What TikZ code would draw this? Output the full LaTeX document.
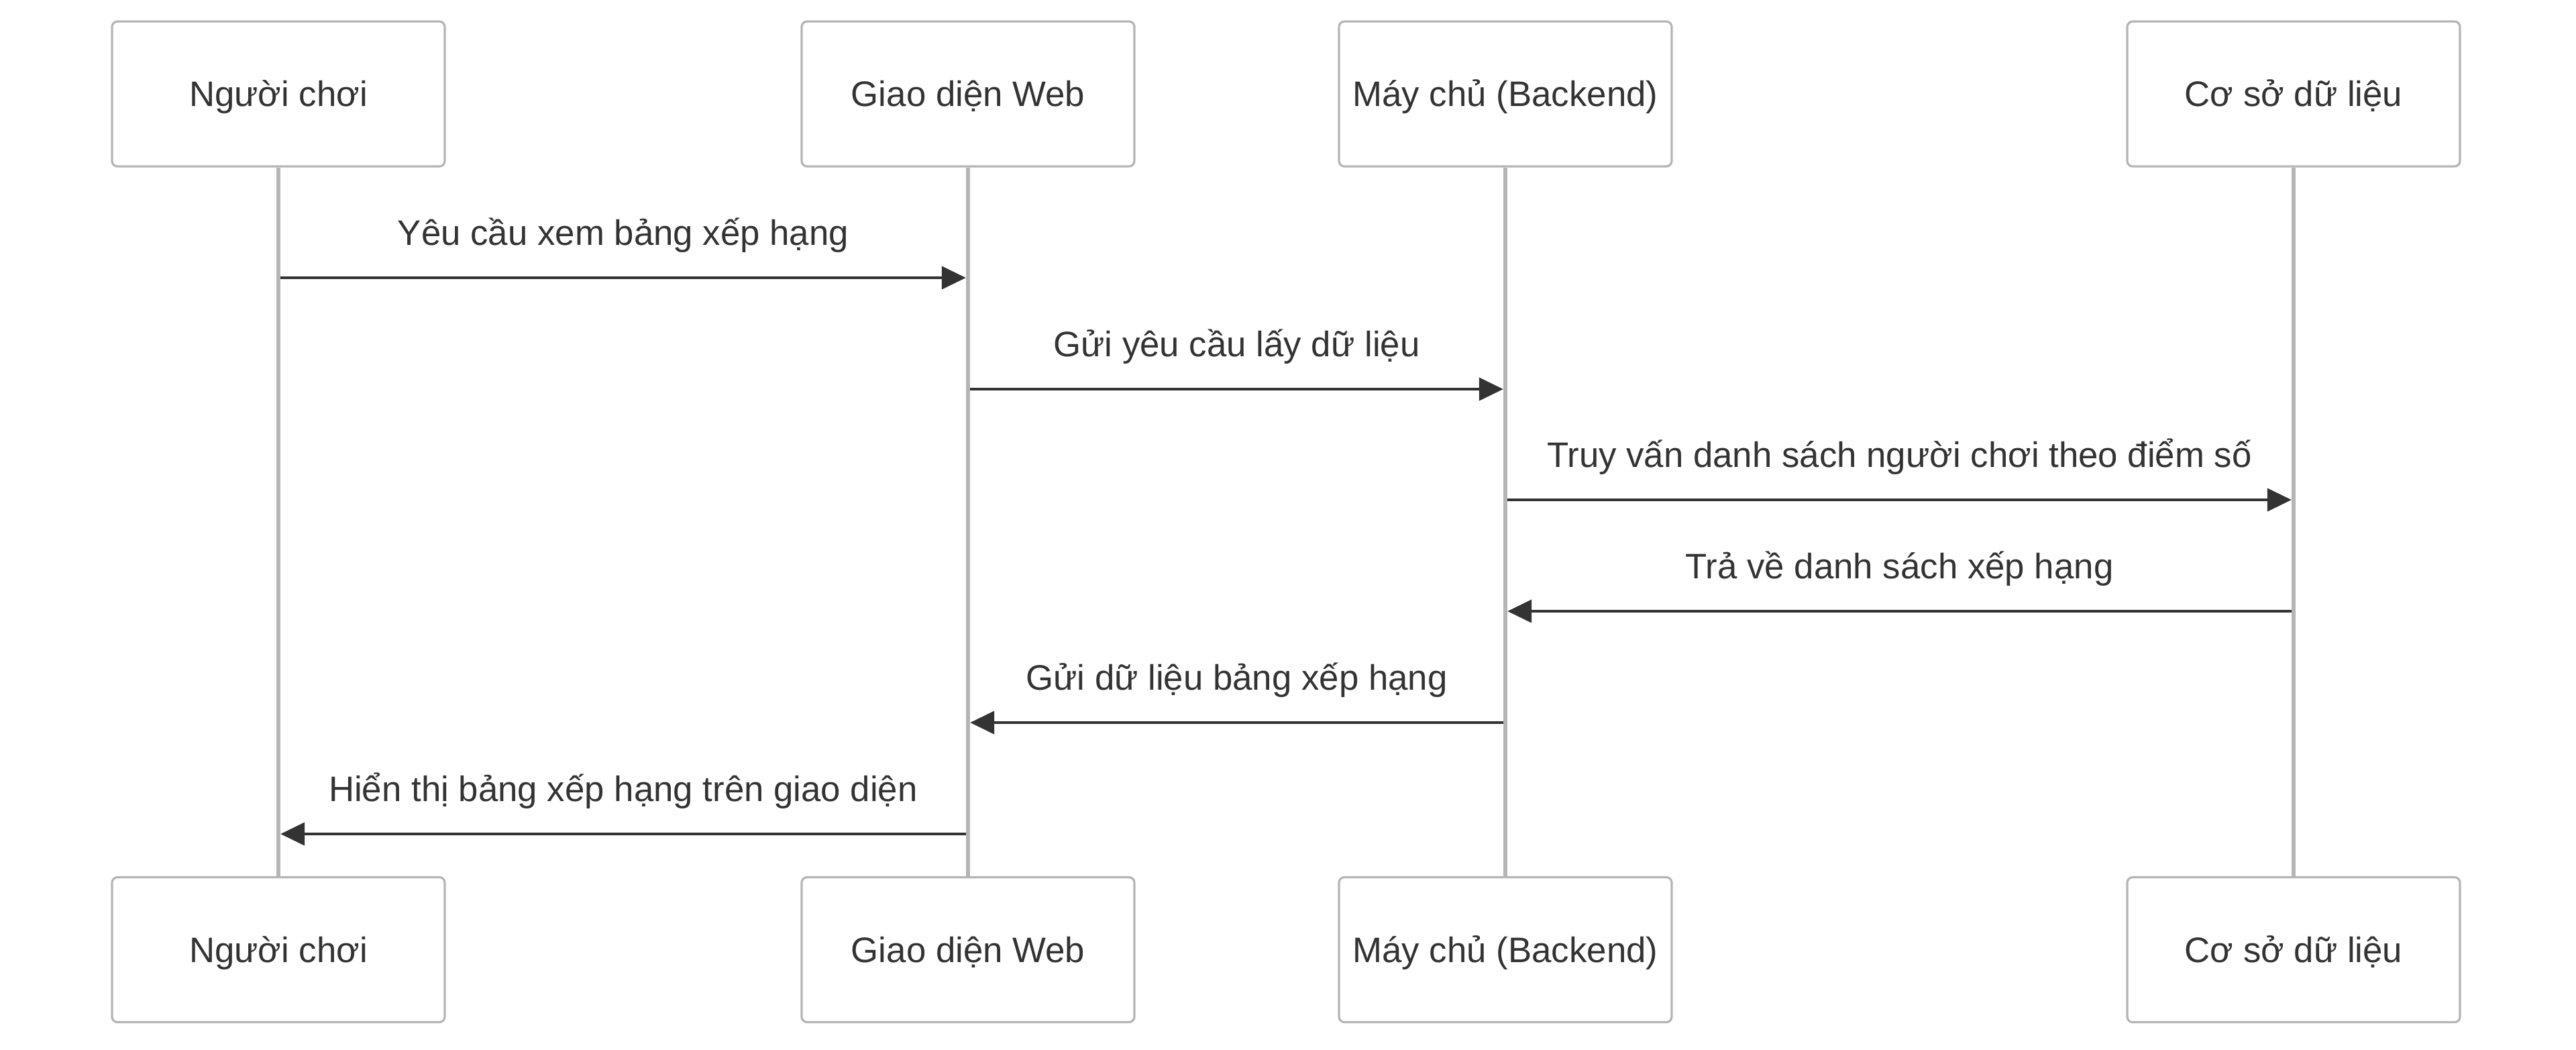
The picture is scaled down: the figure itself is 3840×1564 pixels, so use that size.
\documentclass[tikz,border=0pt]{standalone}
\usepackage{fontspec}
\setmainfont{Liberation Sans}
\usetikzlibrary{arrows.meta}
\definecolor{actline}{RGB}{181,181,181}
\definecolor{msgink}{RGB}{51,51,51}

\begin{document}
\begin{tikzpicture}[x=0.25pt,y=0.25pt,yscale=-1,xscale=1,
  actor/.style={draw=actline,line width=0.8pt,rounded corners=2pt,fill=white,
    minimum width=124pt,minimum height=54pt,text height=9.45pt,text depth=0pt,
    inner sep=0pt,text=msgink,font=\fontsize{13.2}{16}\selectfont},
  lifeline/.style={draw=actline,line width=1.5pt},
  msg/.style={draw=msgink,line width=1pt,shorten <=0.8pt,shorten >=0.8pt,
    -{Triangle[length=9pt,width=8.5pt]}},
  msglabel/.style={anchor=base,text=msgink,inner sep=0pt,font=\fontsize{13.2}{16}\selectfont}]
\useasboundingbox (0,0) rectangle (3840,1564);

% Actors (top)
\node[actor] (a1) at (415,140) {Người chơi};
\node[actor] (a2) at (1443,140) {Giao diện Web};
\node[actor] (a3) at (2244,140) {Máy chủ (Backend)};
\node[actor] (a4) at (3419,140) {Cơ sở dữ liệu};

% Actors (bottom)
\node[actor] (b1) at (415,1415.5) {Người chơi};
\node[actor] (b2) at (1443,1415.5) {Giao diện Web};
\node[actor] (b3) at (2244,1415.5) {Máy chủ (Backend)};
\node[actor] (b4) at (3419,1415.5) {Cơ sở dữ liệu};

% Lifelines
\foreach \i in {1,...,4}
  \draw[lifeline] (a\i.south) -- (b\i.north);

% Message rows
\foreach \y [count=\i] in {414,580,745,911,1077,1243}
  \coordinate (r\i) at (0,\y);

% Messages
\draw[msg] (a1 |- r1) -- (a2 |- r1);
\draw[msg] (a2 |- r2) -- (a3 |- r2);
\draw[msg] (a3 |- r3) -- (a4 |- r3);
\draw[msg] (a4 |- r4) -- (a3 |- r4);
\draw[msg] (a3 |- r5) -- (a2 |- r5);
\draw[msg] (a2 |- r6) -- (a1 |- r6);

% Text Node
\node[msglabel] (t1) at (929,365) {Yêu cầu xem bảng xếp hạng};
\node[msglabel] (t2) at (1843.5,531) {Gửi yêu cầu lấy dữ liệu};
\node[msglabel] (t3) at (2831.5,696) {Truy vấn danh sách người chơi theo điểm số};
\node[msglabel] (t4) at (2831.5,862) {Trả về danh sách xếp hạng};
\node[msglabel] (t5) at (1843.5,1028) {Gửi dữ liệu bảng xếp hạng};
\node[msglabel] (t6) at (929,1194) {Hiển thị bảng xếp hạng trên giao diện};

\end{tikzpicture}
\end{document}
